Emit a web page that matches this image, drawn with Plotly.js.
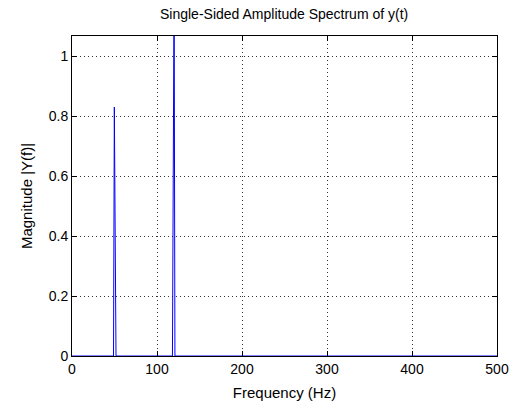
<!DOCTYPE html>
<html>
<head>
<meta charset="utf-8">
<script src="https://cdn.plot.ly/plotly-3.0.1.min.js"></script>
<style>html,body{margin:0;padding:0;background:#fff;}#chart{width:511px;height:404px;}</style>
</head>
<body>
<div id="chart"></div>
<script>
// Frequency (Hz) and single-sided amplitude
const freq = [0, 48.83, 49.80, 50.78, 51.76, 118.16, 119.14, 120.12, 121.09, 500];
const magnitude = [0, 0, 0.83, 0.41, 0, 0, 0.53, 1.25, 0, 0];
const xTicks = [0, 100, 200, 300, 400, 500];
const yTicks = [0, 0.2, 0.4, 0.6, 0.8, 1];
const yTickText = ['0', '0.2', '0.4', '0.6', '0.8', '1'];

const fam = 'Liberation Sans, Arial, sans-serif';

const trace = {
  x: freq, y: magnitude, type: 'scatter', mode: 'lines',
  line: {color: '#0000ff', width: 1}, hoverinfo: 'skip'
};

const axisCommon = {
  showline: true, linecolor: '#000', linewidth: 1, mirror: 'ticks',
  ticks: 'inside', ticklen: 5, tickcolor: '#000', tickwidth: 1,
  showgrid: true, gridcolor: '#333', gridwidth: 1, griddash: '1px,3px',
  zeroline: false, tickfont: {family: fam, size: 14, color: '#000'}
};

const layout = {
  width: 511, height: 404,
  margin: {l: 72, r: 14, t: 36, b: 48},
  paper_bgcolor: '#fff', plot_bgcolor: '#fff',
  font: {family: fam, size: 13, color: '#000'}, showlegend: false,
  title: {text: 'Single-Sided Amplitude Spectrum of y(t)', font: {family: fam, size: 14, color: '#000'},
          x: 0.556, xanchor: 'center', y: 0.965, yanchor: 'middle'},
  xaxis: Object.assign({}, axisCommon, {
    range: [0, 500], tickvals: xTicks, ticktext: xTicks.map(String),
    title: {text: 'Frequency (Hz)', font: {family: fam, size: 15, color: '#000'}, standoff: 11}
  }),
  yaxis: Object.assign({}, axisCommon, {
    range: [0, 1.067], tickvals: yTicks, ticktext: yTickText,
    title: {text: 'Magnitude |Y(f)|', font: {family: fam, size: 15, color: '#000'}, standoff: 12}
  })
};

Plotly.newPlot('chart', [trace], layout, {staticPlot: true, displayModeBar: false});
</script>
</body>
</html>
